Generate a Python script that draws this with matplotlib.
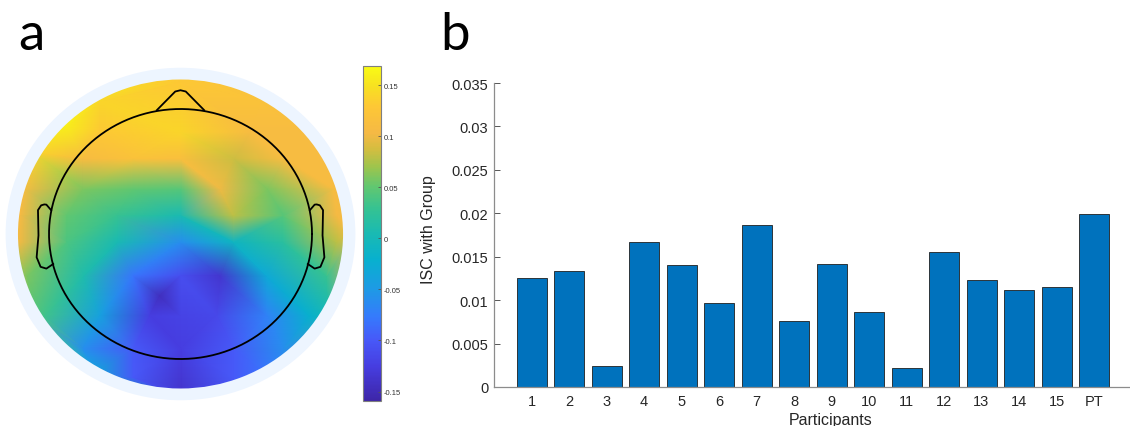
import numpy as np
import matplotlib
matplotlib.use("Agg")
import matplotlib.pyplot as plt
import matplotlib.tri as mtri
from matplotlib.colors import LinearSegmentedColormap
from matplotlib.patches import Circle, Wedge

# ---- panel b data: inter-subject correlation with group ----
participants = ["1", "2", "3", "4", "5", "6", "7", "8", "9", "10",
                "11", "12", "13", "14", "15", "PT"]
isc = [0.0125, 0.0133, 0.0024, 0.0167, 0.0140, 0.0097, 0.0187, 0.0076,
       0.0142, 0.0086, 0.0022, 0.0156, 0.0123, 0.0112, 0.0115, 0.0199]
yticks = [0, 0.005, 0.01, 0.015, 0.02, 0.025, 0.03, 0.035]
ytick_labels = ["0", "0.005", "0.01", "0.015", "0.02", "0.025", "0.03", "0.035"]

# ---- panel a data: scalp samples (head radius = 0.5, plot radius 0.62) ----
elec_x = [0.0, -0.306, -0.433, 0.302, 0.454,
          -0.306, 0.0, 0.264,
          -0.369, -0.179, 0.0, 0.201, 0.391, 0.53,
          -0.598, -0.369, -0.179, 0.0, 0.150, 0.328, 0.581,
          -0.61, -0.433, -0.243, 0.0, 0.201, 0.391, 0.594,
          -0.61, -0.433, -0.243, 0.0, 0.201, 0.391, 0.594,
          -0.585, -0.369, -0.179, 0.0, 0.150, 0.328, 0.556, -0.078,
          -0.521, -0.306, -0.116, 0.0, 0.137, 0.328, 0.492,
          -0.369, -0.179, 0.0, 0.201, 0.391,
          -0.179, 0.0, 0.201,
          0.65, 0.563, 0.325, 0.0, -0.325, -0.46, -0.563, -0.65,
          -0.563, -0.325, 0.0, 0.325, 0.563]
elec_y = [0.607, 0.527, 0.433, 0.527, 0.407,
          0.407, 0.407, 0.407,
          0.30, 0.30, 0.30, 0.30, 0.30, 0.30,
          0.18, 0.18, 0.18, 0.18, 0.18, 0.18, 0.18,
          0.073, 0.073, 0.073, 0.073, 0.073, 0.073, 0.073,
          -0.033, -0.033, -0.033, -0.033, -0.033, -0.033, -0.033,
          -0.167, -0.167, -0.167, -0.167, -0.167, -0.167, -0.167, -0.247,
          -0.327, -0.327, -0.327, -0.327, -0.327, -0.327, -0.327,
          -0.46, -0.46, -0.46, -0.46, -0.46,
          -0.573, -0.607, -0.58,
          0.0, 0.325, 0.563, 0.65, 0.563, 0.46, 0.325, 0.0,
          -0.325, -0.563, -0.65, -0.563, -0.325]
elec_val = [0.13, 0.14, 0.16, 0.12, 0.11,
            0.13, 0.14, 0.11,
            0.11, 0.12, 0.115, 0.085, 0.11, 0.11,
            0.11, 0.06, 0.05, 0.045, 0.10, 0.06, 0.11,
            0.105, 0.05, 0.03, 0.005, 0.08, 0.045, 0.105,
            0.10, 0.04, 0.005, -0.06, -0.01, 0.02, 0.08,
            0.06, 0.01, -0.08, -0.11, -0.135, -0.03, 0.03, -0.145,
            0.035, -0.04, -0.125, -0.12, -0.115, -0.07, -0.02,
            -0.06, -0.10, -0.125, -0.10, -0.06,
            -0.10, -0.135, -0.10,
            0.10, 0.11, 0.12, 0.13, 0.15, 0.165, 0.14, 0.11,
            0.045, -0.03, -0.13, -0.08, 0.0]
cmin, cmax = -0.159, 0.169
cbar_ticks = [-0.15, -0.1, -0.05, 0, 0.05, 0.1, 0.15]
cbar_labels = ["-0.15", "-0.1", "-0.05", "0", "0.05", "0.1", "0.15"]

# parula-like colormap
parula = LinearSegmentedColormap.from_list("parula", [
    (0.000, (0.2422, 0.1504, 0.6603)),
    (0.100, (0.2758, 0.2382, 0.8767)),
    (0.180, (0.2787, 0.3475, 0.9733)),
    (0.250, (0.2100, 0.4800, 0.9900)),
    (0.330, (0.1200, 0.6000, 0.9000)),
    (0.420, (0.0300, 0.6900, 0.8100)),
    (0.500, (0.1000, 0.7300, 0.7000)),
    (0.570, (0.2000, 0.7600, 0.5800)),
    (0.640, (0.3800, 0.7800, 0.4400)),
    (0.700, (0.6200, 0.7700, 0.3000)),
    (0.755, (0.8400, 0.7400, 0.2500)),
    (0.800, (0.9600, 0.7250, 0.2700)),
    (0.880, (0.9950, 0.7800, 0.2100)),
    (0.940, (0.9700, 0.8800, 0.1300)),
    (1.000, (0.9769, 0.9839, 0.0805)),
])

W, H = 1130, 427
fig = plt.figure(figsize=(W / 100, H / 100), dpi=100)
plt.rcParams["font.family"] = ["Liberation Sans", "DejaVu Sans"]

# ---------------- panel a: topoplot ----------------
ax1 = fig.add_axes([1.66 / W, 22 / H, 357.7 / W, 340 / H])
ax1.set_xlim(-0.68, 0.68)
ax1.set_ylim(-0.68, 0.68)
ax1.axis("off")

tri = mtri.Triangulation(elec_x, elec_y)
topo = ax1.tripcolor(tri, elec_val, shading="gouraud", cmap=parula,
                     vmin=cmin, vmax=cmax)
disk = Circle((0, 0), 0.625, transform=ax1.transData)
topo.set_clip_path(disk)

# background ring around the interpolated area
ax1.add_patch(Wedge((0, 0), 0.665, 0, 360, width=0.047,
                    facecolor=(0.93, 0.96, 1.0), edgecolor="none", zorder=3))

# head, nose and ears
t = np.linspace(0, 2 * np.pi, 400)
ax1.plot(0.5 * np.cos(t), 0.5 * np.sin(t), color="k", lw=1.3, zorder=4)
q = 0.04
ear_x = np.array([.497 - .005, .510, .518, .5299, .5419, .54, .547, .532, .510, .489 - .005])
ear_y = np.array([q + .0555, q + .0775, q + .0783, q + .0746, q + .0555,
                  -.0055, -.0932, -.1313, -.1384, -.1199])
ax1.plot(ear_x, ear_y, color="k", lw=1.3, zorder=4)
ax1.plot(-ear_x, ear_y, color="k", lw=1.3, zorder=4)
rmax = 0.5
base = rmax - 0.0046
basex = 0.18 * rmax
tip = 1.15 * rmax
tiphw = 0.04 * rmax
tipr = 0.01 * rmax
ax1.plot([basex, tiphw, 0, -tiphw, -basex], [base, tip - tipr, tip, tip - tipr, base],
         color="k", lw=1.3, zorder=4)

# colorbar
cax = fig.add_axes([363.3 / W, 25.3 / H, 17.4 / W, 334.7 / H])
cb = fig.colorbar(topo, cax=cax)
cb.set_ticks(cbar_ticks)
cb.set_ticklabels(cbar_labels)
cb.outline.set_edgecolor("#7f7f7f")
cb.outline.set_linewidth(0.8)
cax.tick_params(axis="y", direction="in", length=2.5, width=0.6, colors="#555555",
                labelsize=5.5, labelcolor="#333333", pad=2)

# ---------------- panel b: bar chart ----------------
ax2 = fig.add_axes([494 / W, 39 / H, 675 / W, 304 / H])
pos = np.arange(1, len(participants) + 1)
ax2.bar(pos, isc, width=0.8, color="#0072BD", edgecolor="#1f1f1f", linewidth=0.6, zorder=2)
ax2.set_xlim(0, 18)
ax2.set_ylim(0, 0.035)
ax2.set_xticks(pos)
ax2.set_xticklabels(participants)
ax2.set_yticks(yticks)
ax2.set_yticklabels(ytick_labels)
for side in ["top", "right"]:
    ax2.spines[side].set_visible(False)
for side in ["left", "bottom"]:
    ax2.spines[side].set_color("#8c8c8c")
    ax2.spines[side].set_linewidth(0.9)
    ax2.spines[side].set_zorder(3)
ax2.tick_params(direction="in", length=4, width=0.7, colors="#555555",
                labelsize=10.5, labelcolor="#262626")
ax2.tick_params(axis="x", pad=5)
ax2.tick_params(axis="y", pad=4)
ax2.set_xlabel("Participants", fontsize=11.5, color="#262626", va="top")
ax2.xaxis.set_label_coords(0.499, -0.083)
ax2.set_ylabel("ISC with Group", fontsize=11.5, color="#262626")
ax2.yaxis.set_label_coords(-0.086, 0.52)

# panel letters
fig.text(18 / W, 1 - 50 / H, "a", fontsize=38, family="Lato", va="baseline")
fig.text(440 / W, 1 - 50 / H, "b", fontsize=38, family="Lato", va="baseline")

fig.savefig("out.png", dpi=100)
